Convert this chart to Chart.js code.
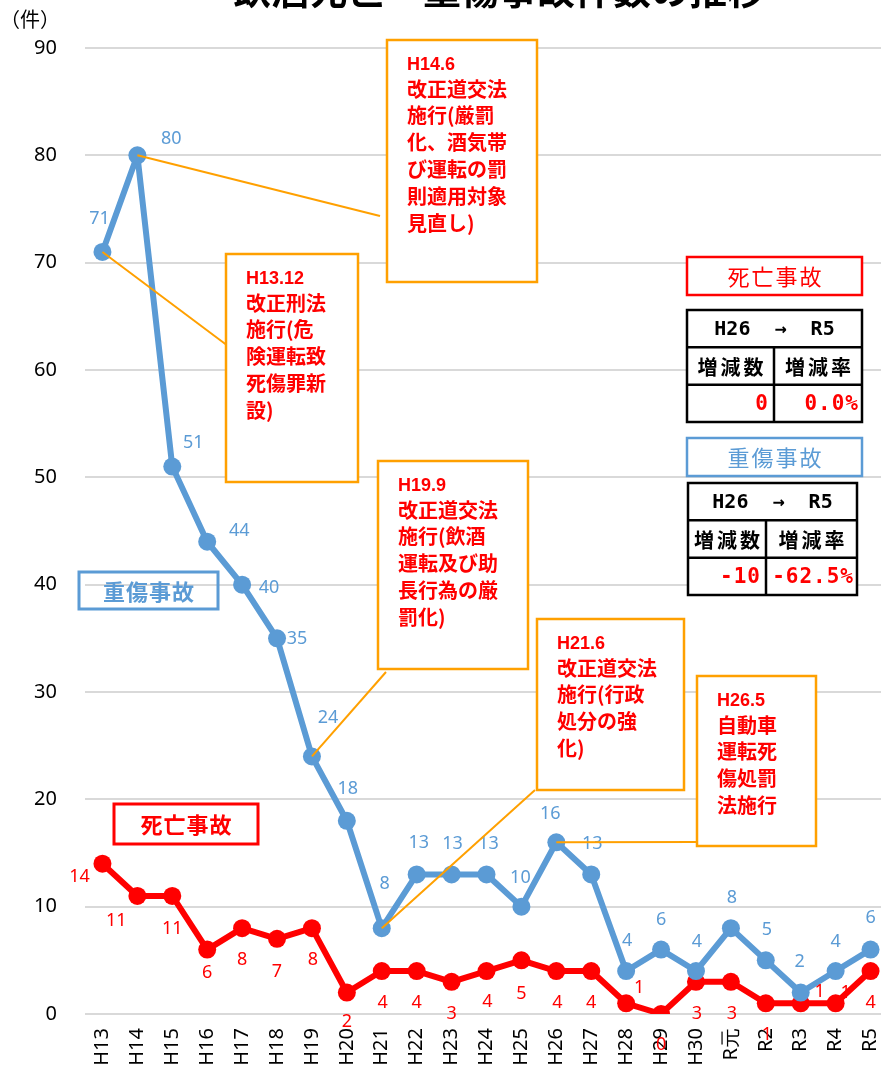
<!DOCTYPE html>
<html>
<head>
<meta charset="utf-8">
<script src="https://cdn.jsdelivr.net/npm/chart.js@4.4.0/dist/chart.umd.min.js"></script>
<style>
body { margin:0; background:#fff; overflow:hidden; }
</style>
</head>
<body>
<canvas id="myChart" width="888" height="1070"></canvas>
<script>
// data
const years = ['H13','H14','H15','H16','H17','H18','H19','H20','H21','H22','H23','H24','H25','H26','H27','H28','H29','H30','R元','R2','R3','R4','R5']
const seriousCount = [71,80,51,44,40,35,24,18,8,13,13,13,10,16,13,4,6,4,8,5,2,4,6]  // 重傷事故
const deathCount = [14,11,11,6,8,7,8,2,4,4,3,4,5,4,4,1,0,3,3,1,1,1,4]  // 死亡事故
const yMin = 0
const yMax = 90
const yStep = 10

// H26 -> R5 summary tables
const deathSummary = ['0', '0.0%']
const seriousSummary = ['-10', '-62.5%']

const BLUE = '#5b9bd5'
const RED = '#ff0000'
const ORANGE = '#ffa000'
const CJK = '"Noto Sans CJK JP", sans-serif'
const MONO = '"DejaVu Sans Mono", monospace'

// label offsets (dx, dy) from each point, like the excel layout
const blueLabelOffset = [[-3,-33],[34,-16],[21,-24],[32,-11],[27,3],[20,1],[16,-39],[1,-32],[3,-44],[2,-32],[1,-31],[2,-31],[-1,-29],[-6,-28],[1,-31],
    [1,-30],[0,-30],[1,-29],[1,-30],[1,-30],[-1,-31],[0,-29],[0,-32]]
const redLabelOffset = [[-23,13],[-21,25],[0,33],[0,23],[0,32],[0,33],[1,32],[0,29],[1,32],[0,32],[0,32],[1,31],[0,34],[1,32],[0,32],
    [13,-15],[0,31],[1,32],[1,32],[1,32],[19,-11],[10,-10],[0,32]]

// annotation boxes: x, y, w, h, title, lines, leader target index and anchor point
const notes = [
    {x:387, y:40, w:150, h:242, head:'H14.6', lines:['改正道交法','施行(厳罰','化、酒気帯','び運転の罰','則適用対象','見直し)'], idx:1, ax:380, ay:216},
    {x:226, y:254, w:132, h:228, head:'H13.12', lines:['改正刑法','施行(危','険運転致','死傷罪新','設)'], idx:0, ax:228, ay:346},
    {x:378, y:461, w:150, h:208, head:'H19.9', lines:['改正道交法','施行(飲酒','運転及び助','長行為の厳','罰化)'], idx:6, ax:386, ay:672},
    {x:537, y:619, w:147, h:171, head:'H21.6', lines:['改正道交法','施行(行政','処分の強','化)'], idx:8, ax:535, ay:790},
    {x:697, y:676, w:119, h:170, head:'H26.5', lines:['自動車','運転死','傷処罰','法施行'], idx:13, ax:697, ay:842}
]

function boxText(ctx, text, x, y, w, h, color, font, lw, spacing) {
    ctx.strokeStyle = color
    ctx.lineWidth = lw
    ctx.strokeRect(x, y, w, h)
    ctx.fillStyle = color
    ctx.font = font
    ctx.letterSpacing = spacing + 'px'
    ctx.textAlign = 'center'
    ctx.textBaseline = 'middle'
    ctx.fillText(text, x + w/2 + spacing/2, y + h/2 + 1)
    ctx.letterSpacing = '0px'
}

function table(ctx, x, y, w, h, split, values) {
    const rh = h / 3
    ctx.strokeStyle = '#000'
    ctx.lineWidth = 2.5
    ctx.strokeRect(x, y, w, h)
    ctx.beginPath()
    ctx.moveTo(x, y + rh); ctx.lineTo(x + w, y + rh)
    ctx.moveTo(x, y + 2*rh); ctx.lineTo(x + w, y + 2*rh)
    ctx.moveTo(split, y + rh); ctx.lineTo(split, y + h)
    ctx.stroke()
    ctx.fillStyle = '#000'
    ctx.textBaseline = 'middle'
    ctx.textAlign = 'center'
    ctx.font = 'bold 20px ' + MONO
    ctx.fillText('H26  →  R5', x + w/2, y + rh/2 + 1)
    ctx.font = 'bold 20px ' + CJK
    ctx.letterSpacing = '3px'
    ctx.fillText('増減数', (x + split)/2 + 1.5, y + rh*1.5 + 1)
    ctx.fillText('増減率', (split + x + w)/2 + 1.5, y + rh*1.5 + 1)
    ctx.letterSpacing = '1px'
    ctx.fillStyle = RED
    ctx.textAlign = 'right'
    ctx.font = 'bold 21px ' + MONO
    ctx.fillText(values[0], split - 5, y + rh*2.5 + 1)
    ctx.fillText(values[1], x + w - 3, y + rh*2.5 + 1)
    ctx.letterSpacing = '0px'
}

const decorPlugin = {
    id: 'decor',
    afterDatasetsDraw(chart) {
        const ctx = chart.ctx
        const xs = chart.scales.x
        const ys = chart.scales.y
        ctx.save()

        // title (cut off at the top) and unit
        ctx.fillStyle = '#000'
        ctx.font = 'bold 38px ' + CJK
        ctx.textAlign = 'center'
        ctx.textBaseline = 'alphabetic'
        ctx.fillText('飲酒死亡・重傷事故件数の推移', 499, 4)
        ctx.font = '20px ' + CJK
        ctx.textAlign = 'left'
        ctx.fillText('（件）', 0, 27)

        // data labels
        ctx.font = '18px "Noto Sans", sans-serif'
        ctx.textAlign = 'center'
        ctx.textBaseline = 'middle'
        for (let i = 0; i < years.length; i++) {
            const px = xs.getPixelForValue(i)
            ctx.fillStyle = BLUE
            ctx.fillText(String(seriousCount[i]), px + blueLabelOffset[i][0], ys.getPixelForValue(seriousCount[i]) + blueLabelOffset[i][1])
            ctx.fillStyle = RED
            ctx.fillText(String(deathCount[i]), px + redLabelOffset[i][0], ys.getPixelForValue(deathCount[i]) + redLabelOffset[i][1])
        }

        // leader lines + annotation boxes
        for (const n of notes) {
            ctx.strokeStyle = ORANGE
            ctx.lineWidth = 2
            ctx.beginPath()
            ctx.moveTo(xs.getPixelForValue(n.idx), ys.getPixelForValue(seriousCount[n.idx]))
            ctx.lineTo(n.ax, n.ay)
            ctx.stroke()
        }
        for (const n of notes) {
            ctx.fillStyle = '#fff'
            ctx.fillRect(n.x, n.y, n.w, n.h)
            ctx.strokeStyle = ORANGE
            ctx.lineWidth = 2.5
            ctx.strokeRect(n.x, n.y, n.w, n.h)
            ctx.fillStyle = RED
            ctx.textAlign = 'left'
            ctx.textBaseline = 'middle'
            ctx.font = 'bold 18px "Liberation Sans", Arial, sans-serif'
            ctx.fillText(n.head, n.x + 20, n.y + 25)
            ctx.font = 'bold 20px ' + CJK
            n.lines.forEach((t, k) => ctx.fillText(t, n.x + 20, n.y + 49 + k*26.8))
        }

        // series name boxes
        boxText(ctx, '重傷事故', 79, 572, 139, 37, BLUE, 'bold 22px ' + CJK, 3, 1)
        boxText(ctx, '死亡事故', 114, 804, 144, 40, RED, 'bold 22px ' + CJK, 3, 1)

        // summary on the right
        ctx.fillStyle = '#fff'
        ctx.fillRect(687, 257, 175, 38)
        boxText(ctx, '死亡事故', 687, 257, 175, 38, RED, '22px ' + CJK, 2.5, 2)
        ctx.fillStyle = '#fff'
        ctx.fillRect(687, 310, 175, 112)
        table(ctx, 687, 310, 175, 112, 774, deathSummary)
        ctx.fillStyle = '#fff'
        ctx.fillRect(687, 438, 175, 38)
        boxText(ctx, '重傷事故', 687, 438, 175, 38, BLUE, '22px ' + CJK, 2.5, 2)
        ctx.fillStyle = '#fff'
        ctx.fillRect(688, 483, 169, 112)
        table(ctx, 688, 483, 169, 112, 766, seriousSummary)

        ctx.restore()
    }
}

const ctx = document.getElementById('myChart')
const myChart = new Chart(ctx, {
    type: 'line',
    data: {
        labels: years,
        datasets: [
            {
                label: '重傷事故',
                data: seriousCount,
                borderColor: BLUE,
                backgroundColor: BLUE,
                borderWidth: 6,
                borderJoinStyle: 'round',
                pointRadius: 9,
                pointBorderWidth: 0,
                tension: 0
            },
            {
                label: '死亡事故',
                data: deathCount,
                borderColor: RED,
                backgroundColor: RED,
                borderWidth: 6,
                borderJoinStyle: 'round',
                pointRadius: 9,
                pointBorderWidth: 0,
                tension: 0
            }
        ]
    },
    plugins: [decorPlugin],
    options: {
        responsive: false,
        animation: false,
        layout: { autoPadding: false, padding: { top: 48, right: 0, left: 0, bottom: 0 } },
        plugins: {
            legend: { display: false },
            tooltip: { enabled: false }
        },
        scales: {
            x: {
                offset: true,
                grid: { display: false },
                border: { display: false },
                ticks: {
                    color: '#000',
                    font: { size: 20, family: '"Noto Sans", sans-serif' },
                    maxRotation: 90,
                    minRotation: 90,
                    autoSkip: false,
                    padding: 6
                },
                afterFit(scale) {
                    scale.height = 56
                    scale.paddingLeft = 0
                    scale.paddingRight = 0
                }
            },
            y: {
                min: yMin,
                max: yMax,
                ticks: {
                    stepSize: yStep,
                    color: '#000',
                    font: { size: 20, family: '"Noto Sans", sans-serif' },
                    padding: 28
                },
                grid: { color: '#d9d9d9', lineWidth: 2, drawTicks: false },
                border: { display: false },
                afterFit(scale) { scale.width = 85 }
            }
        }
    }
});
</script>
</body>
</html>
